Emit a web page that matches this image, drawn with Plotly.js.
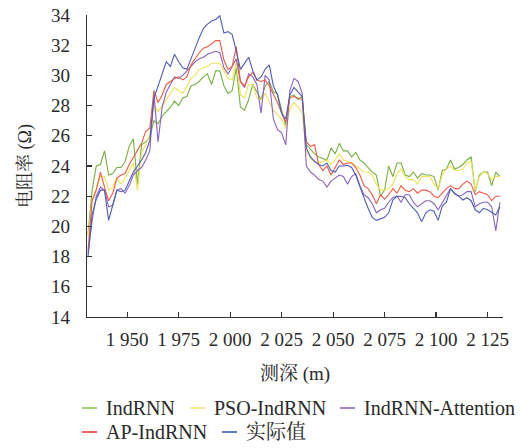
<!DOCTYPE html>
<html><head><meta charset="utf-8">
<script src="https://cdn.plot.ly/plotly-3.0.1.min.js"></script>
<style>html,body{margin:0;padding:0;background:#fff}</style>
</head><body>
<div id="chart" style="width:521px;height:448px"></div>
<script>
const depth = [
1931,1933,1935,1937,1939,1941,1943,1945,1947,1949,
1951,1953,1955,1957,1959,1961,1963,1965,1967,1969,
1971,1973,1975,1977,1979,1981,1983,1985,1987,1989,
1991,1993,1995,1997,1999,2001,2003,2005,2007,2009,
2011,2013,2015,2017,2019,2021,2023,2025,2027,2029,
2031,2033,2035,2037,2039,2041,2043,2045,2047,2049,
2051,2053,2055,2057,2059,2061,2063,2065,2067,2069,
2071,2073,2075,2077,2079,2081,2083,2085,2087,2089,
2091,2093,2095,2097,2099,2101,2103,2105,2107,2109,
2111,2113,2115,2117,2119,2121,2123,2125,2127,2129,
2131];

const indRNN = [
19.5,22.4,24.0,24.1,25.0,23.4,23.5,23.9,23.9,24.3,
25.3,25.8,22.8,25.4,25.6,25.9,27.0,26.8,27.3,27.6,
27.9,28.3,28.0,28.5,28.6,29.3,29.4,29.6,29.9,30.1,
29.4,30.3,30.3,29.3,28.8,29.0,30.5,27.9,27.7,28.4,
29.4,28.9,28.4,29.3,29.6,28.9,28.8,27.7,26.7,28.6,
28.7,28.4,28.6,25.4,25.1,24.8,24.6,24.5,24.4,25.2,
24.8,25.5,25.0,25.0,24.6,24.9,24.4,24.2,23.9,23.6,
23.4,22.0,22.4,24.0,23.3,24.2,24.2,23.4,23.3,23.6,
23.2,23.5,23.4,23.4,23.3,22.4,23.7,23.8,24.4,23.8,
23.9,24.1,24.4,24.6,22.3,23.4,23.6,23.6,22.7,23.6,
23.3];

const psoIndRNN = [
19.3,21.7,22.5,23.3,23.3,22.4,22.6,23.2,22.8,23.2,
23.7,24.2,22.4,24.9,25.4,26.1,28.0,27.6,28.0,28.4,
28.8,29.2,29.0,28.8,29.3,29.8,30.0,30.4,30.5,30.6,
30.8,30.8,30.8,30.3,29.8,29.7,30.9,28.7,28.5,29.4,
29.4,28.5,28.4,28.8,28.2,27.7,27.4,27.1,26.5,27.8,
28.2,27.9,27.5,25.0,24.5,24.3,24.2,24.3,24.4,24.1,
24.4,24.8,24.4,24.3,24.2,24.0,23.8,23.6,23.6,23.4,
22.8,22.4,22.4,22.5,22.8,23.5,23.8,23.3,23.1,23.1,
22.8,23.3,23.3,23.3,22.8,22.5,23.4,23.8,24.0,23.7,
23.7,23.8,24.2,24.3,22.4,23.3,23.6,23.5,23.1,23.3,
23.3];

const indRNNAttention = [
18.2,20.4,22.0,22.6,22.4,21.3,21.4,22.4,22.5,22.2,
22.7,23.4,23.7,23.9,24.4,25.0,28.8,25.6,27.9,28.9,
29.4,29.9,29.8,30.0,30.3,30.6,30.9,31.1,31.2,31.4,
31.5,31.6,31.5,30.5,30.1,30.6,31.1,29.6,29.2,30.1,
29.9,29.4,27.5,30.0,29.7,27.1,26.4,26.2,25.4,29.0,
29.8,29.6,28.8,24.0,23.6,23.4,23.1,23.0,22.6,23.0,
23.2,23.4,23.3,22.8,23.3,23.5,22.7,22.1,21.9,21.5,
20.9,21.1,21.2,21.6,21.9,22.0,21.6,22.1,22.1,21.6,
21.3,21.5,21.7,21.7,21.5,21.1,21.6,22.1,22.5,22.2,
22.0,22.1,22.3,22.3,21.3,21.5,21.6,21.6,21.3,19.7,
21.6];

const apIndRNN = [
18.4,21.7,22.4,23.6,22.6,21.7,22.2,23.2,23.4,23.5,
24.1,24.6,25.0,25.5,26.3,26.5,29.0,28.2,28.7,29.4,
29.6,29.8,29.9,29.7,29.9,30.7,31.1,31.5,31.8,31.9,
32.1,32.3,32.3,31.0,30.4,30.6,31.9,29.6,29.3,29.9,
30.2,29.7,29.6,29.7,29.3,28.8,28.2,27.5,26.9,28.5,
28.6,28.5,28.4,25.6,25.3,25.4,24.1,23.7,24.0,23.4,
23.9,24.4,24.1,24.2,24.2,23.9,23.4,22.7,22.5,22.1,
21.5,22.1,21.8,22.1,22.5,22.2,22.7,22.4,22.3,22.5,
22.2,22.4,22.4,22.3,22.0,21.9,22.2,22.5,22.7,22.5,
22.5,22.8,23.0,22.8,22.1,22.3,22.2,22.1,21.7,22.0,
22.0];

const actual = [
18.0,20.8,21.8,22.4,22.4,20.4,21.4,22.4,22.3,22.4,
23.0,23.6,24.0,24.4,24.9,25.7,28.5,29.3,30.2,30.9,
30.6,31.4,30.9,30.5,30.4,31.1,31.9,32.5,33.1,33.4,
33.6,33.7,33.95,32.8,32.9,32.7,31.6,30.4,30.8,31.2,
30.3,29.7,29.9,30.4,30.7,29.3,28.7,27.5,27.1,28.7,
29.2,28.9,28.6,25.2,24.6,24.3,24.1,24.0,24.2,23.7,
23.6,24.0,24.0,24.05,23.9,23.4,22.6,21.9,21.2,20.6,
20.4,20.5,20.6,20.9,21.75,22.0,22.0,21.9,21.5,21.2,
20.9,20.3,20.9,21.1,21.0,20.4,21.35,21.6,22.5,22.15,
22.0,21.75,21.9,21.7,21.1,20.9,21.2,21.1,20.9,20.75,
21.3];

const seriesNames = ['IndRNN','PSO-IndRNN','IndRNN-Attention','AP-IndRNN','实际值'];
const seriesValues = [indRNN, psoIndRNN, indRNNAttention, apIndRNN, actual];
const xTickVals = [1950,1975,2000,2025,2050,2075,2100,2125];
const xTickText = ['1 950','1 975','2 000','2 025','2 050','2 075','2 100','2 125'];
const yTickVals = [14,16,18,20,22,24,26,28,30,32,34];

const lineColors = ['#76b041','#ede25a','#8a63bd','#ee5a45','#4f5db5'];
const legendColors = ['#7cc04a','#f0e46a','#8b5db5','#e3322b','#2e4fa5'];
const legendPos = [[82,408],[190,408],[340,408],[82,432],[222,432]];

const L=87, R=18, T=15, B=131, W=521, H=448;
const pw = W-L-R, ph = H-T-B;
const toPx = x => (x-L)/pw;
const toPy = y => (H-B-y)/ph;

const traces = seriesNames.map((n,i)=>({
  x: depth, y: seriesValues[i], type:'scatter', mode:'lines', name:n,
  line:{color:lineColors[i], width:1.1}, showlegend:false
}));

const font = '"Liberation Serif", "Times New Roman", Times, "Noto Serif CJK SC", "Noto Sans CJK SC", serif';
const shapes = [], annotations = [];
seriesNames.forEach((n,i)=>{
  const [x,y] = legendPos[i];
  shapes.push({type:'line', xref:'paper', yref:'paper', x0:toPx(x), x1:toPx(x+15), y0:toPy(y), y1:toPy(y),
    line:{color:legendColors[i], width:1.5}});
  annotations.push({xref:'paper', yref:'paper', x:toPx(x+22), y:toPy(y), xanchor:'left', yanchor:'middle',
    text:n, showarrow:false, font:{family:font, size:20, color:'#2a2a2a'}});
});

const layout = {
  width:W, height:H, margin:{l:L,r:R,t:T,b:B}, paper_bgcolor:'#fff', plot_bgcolor:'#fff',
  font:{family:font, size:19, color:'#2a2a2a'},
  xaxis:{range:[1930.5,2132.5], tickvals:xTickVals, ticktext:xTickText, ticks:'inside', ticklen:5,
    tickcolor:'#333', tickwidth:1.2, showline:true, linecolor:'#333', linewidth:1.3, showgrid:false, zeroline:false,
    tickfont:{family:font,size:19,color:'#2a2a2a'}, ticklabelstandoff:5,
    title:{text:'测深 (m)', font:{family:font,size:19,color:'#2a2a2a'}, standoff:17}},
  yaxis:{range:[14,34], tickvals:yTickVals, ticks:'inside', ticklen:5,
    tickcolor:'#333', tickwidth:1.2, showline:true, linecolor:'#333', linewidth:1.3, showgrid:false, zeroline:false,
    tickfont:{family:font,size:19,color:'#2a2a2a'}, ticklabelstandoff:12,
    title:{text:'电阻率 (Ω)', font:{family:font,size:18,color:'#2a2a2a'}, standoff:14}},
  shapes, annotations
};
Plotly.newPlot('chart', traces, layout, {staticPlot:true, displayModeBar:false});
</script>
</body></html>
